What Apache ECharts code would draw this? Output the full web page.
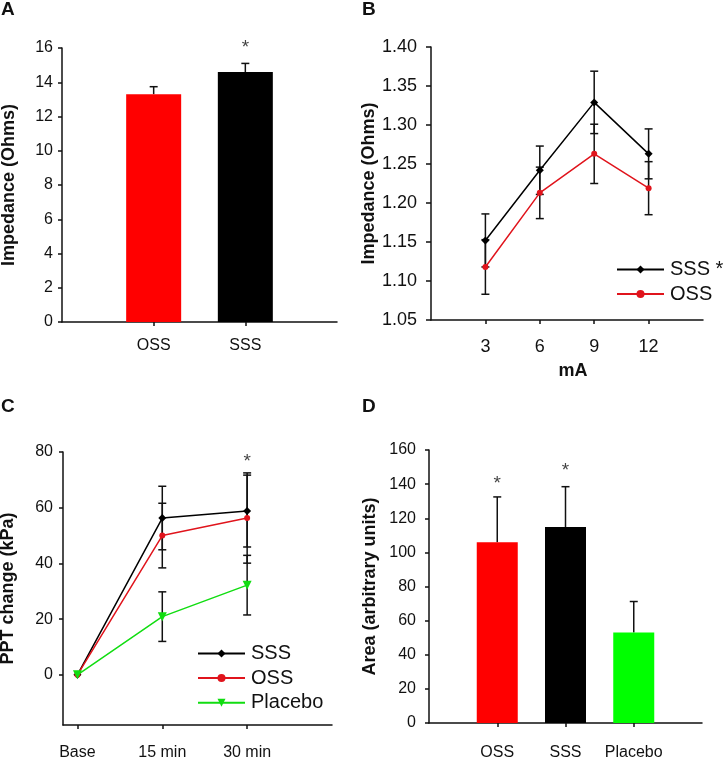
<!DOCTYPE html>
<html>
<head>
<meta charset="utf-8">
<script src="https://cdn.jsdelivr.net/npm/echarts@6/dist/echarts.min.js"></script>
<style>
  html, body { margin: 0; padding: 0; background: #fff; }
  #chart { width: 724px; height: 757px; }
</style>
</head>
<body>
<div id="chart"></div>
<script>
// panel A - impedance bars
const groupsA = ['OSS', 'SSS'];
const impedanceA = [13.3, 14.6];
const impedanceErrA = [0.44, 0.5];
const colorsA = ['#ff0000', '#000000'];
const starsA = [[2, 16.0]];

// panel B - impedance by current
const currentB = [3, 6, 9, 12];
const sssB = [1.152, 1.242, 1.329, 1.263];
const sssErrB = [0.034, 0.031, 0.040, 0.032];
const ossB = [1.118, 1.213, 1.263, 1.219];
const ossErrB = [0.035, 0.033, 0.038, 0.034];
const ticksB = [1.05, 1.10, 1.15, 1.20, 1.25, 1.30, 1.35, 1.40];

// panel C - PPT change over time
const timesC = ['Base', '15 min', '30 min'];
const sssC = [0, 56.3, 58.8];
const sssErrC = [0, 11.4, 12.9];
const ossC = [0, 50.0, 56.3];
const ossErrC = [0, 11.6, 16.2];
const placeboC = [0, 20.9, 32.2];
const placeboErrC = [0, 8.9, 10.7];
const ticksC = [0, 20, 40, 60, 80];
const starsC = [[2, 76.5]];

// panel D - area
const groupsD = ['OSS', 'SSS', 'Placebo'];
const areaD = [106, 114.8, 53];
const areaErrD = [26.5, 23.7, 18.2];
const colorsD = ['#ff0000', '#000000', '#00ff00'];
const starsD = [[1, 140], [2, 148]];

const font = 'Liberation Sans, Arial, sans-serif';
const ink = '#111';

const chart = echarts.init(document.getElementById('chart'), null, { renderer: 'canvas' });

function errorSeries(data, gi, capLow) {
  return {
    type: 'custom',
    xAxisIndex: gi, yAxisIndex: gi,
    z: 1,
    silent: true,
    data: data,
    renderItem: function (params, api) {
      const x = api.value(0);
      const lo = api.coord([x, api.value(1)]);
      const hi = api.coord([x, api.value(2)]);
      const st = { stroke: ink, lineWidth: 1.5 };
      const kids = [
        { type: 'line', shape: { x1: lo[0], y1: lo[1], x2: hi[0], y2: hi[1] }, style: st },
        { type: 'line', shape: { x1: hi[0] - 4, y1: hi[1], x2: hi[0] + 4, y2: hi[1] }, style: st }
      ];
      if (capLow) {
        kids.push({ type: 'line', shape: { x1: lo[0] - 4, y1: lo[1], x2: lo[0] + 4, y2: lo[1] }, style: st });
      }
      return { type: 'group', children: kids };
    }
  };
}

function starSeries(data, gi) {
  return {
    type: 'scatter', xAxisIndex: gi, yAxisIndex: gi, data: data,
    symbolSize: 1, itemStyle: { color: 'rgba(0,0,0,0)' }, clip: false, silent: true,
    label: { show: true, position: 'inside', formatter: '*', color: ink, fontSize: 19, fontFamily: font }
  };
}

function axisBase(fontSize) {
  return {
    axisLine: { show: true, onZero: false, lineStyle: { color: ink, width: 1.5 } },
    axisTick: { show: true, inside: false, length: 4, lineStyle: { color: ink, width: 1.5 } },
    axisLabel: { color: ink, fontSize: fontSize, fontFamily: font },
    splitLine: { show: false },
    nameTextStyle: { color: ink, fontFamily: font, fontWeight: 'bold', fontSize: 18 }
  };
}

function lineSeries(name, data, gi, color, symbol, size, rotate) {
  return {
    type: 'line', name: name, xAxisIndex: gi, yAxisIndex: gi, z: 3,
    data: data, symbol: symbol, symbolSize: size, symbolRotate: rotate || 0,
    showAllSymbol: true,
    lineStyle: { color: color, width: 1.5 },
    itemStyle: { color: color }
  };
}

const legendText = { fontFamily: font, fontSize: 20, color: ink, lineHeight: 21, padding: [0, 0, 0, 1] };

const option = {
  animation: false,
  backgroundColor: '#fff',
  title: [
    { text: 'A', left: 1, top: 0 },
    { text: 'B', left: 362, top: 0 },
    { text: 'C', left: 1, top: 397 },
    { text: 'D', left: 362, top: 397 }
  ].map(t => Object.assign(t, { padding: 0, textStyle: { fontFamily: font, fontWeight: 'bold', fontSize: 19, color: ink } })),
  grid: [
    { left: 62, top: 48, width: 275, height: 274, outerBoundsMode: 'none' },
    { left: 431, top: 47, width: 272, height: 273, outerBoundsMode: 'none' },
    { left: 63, top: 452, width: 269, height: 273, outerBoundsMode: 'none' },
    { left: 429, top: 450, width: 273, height: 273, outerBoundsMode: 'none' }
  ],
  legend: [
    {
      data: ['SSS', 'OSS'], left: 611, top: 254, orient: 'vertical',
      itemWidth: 47, itemHeight: 10, itemGap: 3.6, selectedMode: false,
      formatter: n => (n === 'SSS' ? 'SSS *' : n),
      textStyle: legendText
    },
    {
      data: ['SSS', 'OSS', 'Placebo'], left: 192, top: 638, orient: 'vertical',
      itemWidth: 47, itemHeight: 10, itemGap: 3.6, selectedMode: false,
      textStyle: legendText
    }
  ],
  xAxis: [
    Object.assign(axisBase(16), {
      type: 'value', gridIndex: 0, min: 0, max: 3,
      axisTick: { show: true, length: 4, customValues: [1, 2], lineStyle: { color: ink, width: 1.5 } },
      axisLabel: { color: ink, fontSize: 16, fontFamily: font, margin: 16, customValues: [1, 2], formatter: v => groupsA[v - 1] }
    }),
    Object.assign(axisBase(18), {
      type: 'value', gridIndex: 1, min: 0, max: 15,
      name: 'mA', nameLocation: 'middle', nameGap: 42,
      nameTextStyle: { color: ink, fontFamily: font, fontWeight: 'bold', fontSize: 18, padding: [0, 0, 0, 12] },
      axisTick: { show: true, length: 4, customValues: currentB, lineStyle: { color: ink, width: 1.5 } },
      axisLabel: { color: ink, fontSize: 18, fontFamily: font, margin: 18, customValues: currentB }
    }),
    Object.assign(axisBase(16), {
      type: 'value', gridIndex: 2, min: -0.17, max: 3,
      axisTick: { show: true, length: 4, customValues: [0, 1, 2], lineStyle: { color: ink, width: 1.5 } },
      axisLabel: { color: ink, fontSize: 16, fontFamily: font, margin: 20, customValues: [0, 1, 2], formatter: v => timesC[v] }
    }),
    Object.assign(axisBase(16), {
      type: 'value', gridIndex: 3, min: 0, max: 4,
      axisTick: { show: true, length: 4, customValues: [1, 2, 3], lineStyle: { color: ink, width: 1.5 } },
      axisLabel: { color: ink, fontSize: 16, fontFamily: font, margin: 22, customValues: [1, 2, 3], formatter: v => groupsD[v - 1] }
    })
  ],
  yAxis: [
    Object.assign(axisBase(16), {
      type: 'value', gridIndex: 0, min: 0, max: 16, interval: 2,
      name: 'Impedance (Ohms)', nameLocation: 'middle', nameGap: 44,
      axisLabel: { color: ink, fontSize: 16, fontFamily: font, margin: 9 }
    }),
    Object.assign(axisBase(18), {
      type: 'value', gridIndex: 1, min: 1.05, max: 1.40,
      name: 'Impedance (Ohms)', nameLocation: 'middle', nameGap: 52,
      axisTick: { show: true, length: 5, customValues: ticksB, lineStyle: { color: ink, width: 1.5 } },
      axisLabel: { color: ink, fontSize: 18, fontFamily: font, margin: 14, customValues: ticksB, formatter: v => v.toFixed(2) }
    }),
    Object.assign(axisBase(16), {
      type: 'value', gridIndex: 2, min: -18, max: 80,
      name: 'PPT change (kPa)', nameLocation: 'middle', nameGap: 46,
      axisTick: { show: true, length: 4, customValues: ticksC, lineStyle: { color: ink, width: 1.5 } },
      axisLabel: { color: ink, fontSize: 16, fontFamily: font, margin: 10, customValues: ticksC }
    }),
    Object.assign(axisBase(16), {
      type: 'value', gridIndex: 3, min: 0, max: 160, interval: 20,
      name: 'Area (arbitrary units)', nameLocation: 'middle', nameGap: 50,
      axisLabel: { color: ink, fontSize: 16, fontFamily: font, margin: 13 }
    })
  ],
  series: [
    // A
    {
      type: 'bar', name: 'impedanceA', xAxisIndex: 0, yAxisIndex: 0, barWidth: 55, z: 2,
      data: impedanceA.map((v, i) => ({ value: [i + 1, v], itemStyle: { color: colorsA[i] } }))
    },
    errorSeries(impedanceA.map((v, i) => [i + 1, v, v + impedanceErrA[i]]), 0, false),
    starSeries(starsA, 0),
    // B
    errorSeries(currentB.map((x, i) => [x, sssB[i] - sssErrB[i], sssB[i] + sssErrB[i]]), 1, true),
    errorSeries(currentB.map((x, i) => [x, ossB[i] - ossErrB[i], ossB[i] + ossErrB[i]]), 1, true),
    lineSeries('SSS', currentB.map((x, i) => [x, sssB[i]]), 1, '#000000', 'diamond', 8),
    lineSeries('OSS', currentB.map((x, i) => [x, ossB[i]]), 1, '#e0141c', 'circle', 6),
    // C
    errorSeries(timesC.map((t, i) => [i, sssC[i] - sssErrC[i], sssC[i] + sssErrC[i]]).slice(1), 2, true),
    errorSeries(timesC.map((t, i) => [i, ossC[i] - ossErrC[i], ossC[i] + ossErrC[i]]).slice(1), 2, true),
    errorSeries(timesC.map((t, i) => [i, placeboC[i] - placeboErrC[i], placeboC[i] + placeboErrC[i]]).slice(1), 2, true),
    lineSeries('SSS', timesC.map((t, i) => [i, sssC[i]]), 2, '#000000', 'diamond', 8),
    lineSeries('OSS', timesC.map((t, i) => [i, ossC[i]]), 2, '#e0141c', 'circle', 6),
    lineSeries('Placebo', timesC.map((t, i) => [i, placeboC[i]]), 2, '#11dd11', 'triangle', 9, 180),
    starSeries(starsC, 2),
    // D
    {
      type: 'bar', name: 'areaD', xAxisIndex: 3, yAxisIndex: 3, barWidth: 41, z: 2,
      data: areaD.map((v, i) => ({ value: [i + 1, v], itemStyle: { color: colorsD[i] } }))
    },
    errorSeries(areaD.map((v, i) => [i + 1, v, v + areaErrD[i]]), 3, false),
    starSeries(starsD, 3)
  ]
};

chart.setOption(option);
</script>
</body>
</html>
